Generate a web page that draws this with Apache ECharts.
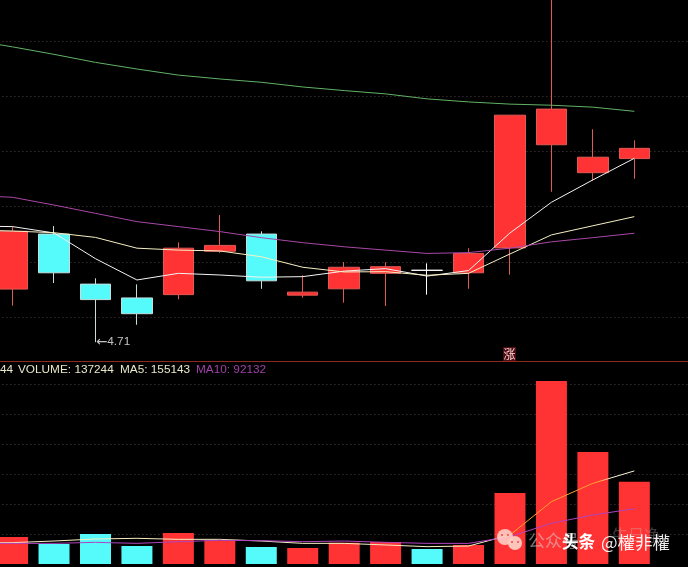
<!DOCTYPE html>
<html>
<head>
<meta charset="utf-8">
<title>K线图</title>
<style>
  html, body { margin:0; padding:0; background:#000; }
  #main { width:688px; height:567px; }
</style>
<script src="https://cdn.jsdelivr.net/npm/echarts@6/dist/echarts.min.js"></script>
</head>
<body>
<div id="main"></div>
<script>
/* ================= data ================= */
// first slot sits left of the window (only the MA lines come from there), last one is empty
const days = ['d0','d1','d2','d3','d4','d5','d6','d7','d8','d9','d10','d11','d12','d13','d14','d15','d16','d17'];

// open, close, low, high
const kline = [
  '-',
  [4.902,5.111,4.842,5.128],
  [5.101,4.961,4.924,5.130],
  [4.920,4.864,4.710,4.941],
  [4.870,4.813,4.773,4.919],
  [4.882,5.050,4.865,5.071],
  [5.039,5.060,5.033,5.170],
  [5.101,4.932,4.903,5.111],
  [4.880,4.891,4.871,4.952],
  [4.903,4.981,4.853,5.000],
  [4.959,4.983,4.841,4.999],
  [4.970,4.970,4.882,4.995],
  [4.961,5.031,4.903,5.050],
  [5.051,5.531,4.954,5.531],
  [5.424,5.553,5.254,5.950],
  [5.323,5.379,5.294,5.480],
  [5.374,5.411,5.301,5.440],
  '-'
];

const ma5   = [5.130,5.128,5.105,5.012,4.935,4.959,4.953,4.945,4.947,4.967,4.976,4.949,4.969,5.105,5.216,5.297,5.375,'-'];
const ma10  = [5.116,5.112,5.106,5.089,5.050,5.043,5.040,5.019,4.981,4.964,4.965,4.952,4.959,5.029,5.098,5.131,5.164,'-'];
const ma20  = [5.241,5.234,5.206,5.176,5.146,5.128,5.110,5.088,5.070,5.055,5.043,5.031,5.034,5.050,5.073,5.088,5.104,'-'];
const ma60  = [5.803,5.778,5.751,5.722,5.698,5.676,5.662,5.650,5.633,5.620,5.608,5.590,5.579,5.571,5.567,5.560,5.545,'-'];

const volume = ['-',45000,33300,50000,30000,51700,39500,28300,26700,35500,36700,25000,31700,118300,305000,186700,137244,'-'];
const volUp  = [0,1,0,0,0,1,1,0,1,1,1,0,1,1,1,1,1,0];
const volMa5  = [35000,35600,38300,41700,42800,41100,41100,38300,34400,34400,31700,28900,30000,48300,103900,134500,155143,'-'];
const volMa10 = [34400,34400,34400,36100,34400,37200,39500,38900,37200,38300,36100,34400,34400,45600,67800,81700,92132,'-'];

const lowValue = 4.71;
const lowDay = 'd3';

/* ================= colours ================= */
const RED = '#ff3333';
const CYAN = '#55fbfb';
const GRID_LINE = '#4e4242';
// the pale MA5 turns orange where it crosses the tall red bars
const VOL_MA5_COLOR = {
  type:'linear', x:0, y:0, x2:688, y2:0, global:true,
  colorStops:[
    { offset:0, color:'#f6efc0' },
    { offset:0.73, color:'#f6efc0' },
    { offset:0.75, color:'#ffa033' },
    { offset:0.87, color:'#ffa033' },
    { offset:0.89, color:'#f8f4dc' },
    { offset:1, color:'#f8f4dc' }
  ]
};

/* ================= chart ================= */
const chart = echarts.init(document.getElementById('main'));

const maLine = (name, data, color, xy) => ({
  name, type:'line', data,
  xAxisIndex:xy, yAxisIndex:xy,
  symbol:'none',
  lineStyle:{ color, width:1 },
  z:5
});

const txt = (text, x, y, fill, extra) => ({
  type:'text', z:20,
  style:Object.assign({
    text, x, y, fill,
    font:'11.8px "Liberation Sans"',
    verticalAlign:'middle'
  }, extra)
});

chart.setOption({
  animation:false,
  backgroundColor:'#000',
  grid:[
    // the window cuts through the first candle, so the grids run past the canvas
    { left:-49.6, width:746.1, top:-14.5, height:387.1, outerBoundsMode:'none' },
    { left:-49.6, width:746.1, top:354, height:210, outerBoundsMode:'none' }
  ],
  xAxis:[
    { type:'category', data:days, gridIndex:0, show:false },
    { type:'category', data:days, gridIndex:1, show:false }
  ],
  yAxis:[
    {
      type:'value', gridIndex:0, min:4.6, max:6.0, interval:0.2,
      axisLine:{show:false}, axisTick:{show:false}, axisLabel:{show:false},
      splitLine:{ showMinLine:false, showMaxLine:false, lineStyle:{ color:GRID_LINE, type:[1,3] } }
    },
    {
      type:'value', gridIndex:1, min:0, max:350000, interval:50000,
      axisLine:{show:false}, axisTick:{show:false}, axisLabel:{show:false},
      splitLine:{ showMinLine:false, showMaxLine:false, lineStyle:{ color:GRID_LINE, type:[1,3] } }
    }
  ],
  series:[
    {
      name:'K', type:'candlestick', data:kline,
      xAxisIndex:0, yAxisIndex:0,
      barWidth:31,
      itemStyle:{
        color:RED, color0:CYAN,
        borderColor:'#e05a55', borderColor0:'#c4dede', borderColorDoji:'#ffffff',
        borderWidth:1
      },
      markPoint:{
        symbol:'circle', symbolSize:1,
        itemStyle:{ color:'transparent' },
        label:{
          show:true, position:'right', distance:0,
          formatter:'{a|←}' + lowValue,
          color:'#c4c4c4', fontSize:11.8, fontFamily:'Liberation Sans',
          rich:{ a:{ fontFamily:'DejaVu Sans', fontSize:13.5, color:'#c4c4c4' } }
        },
        data:[{ coord:[lowDay, lowValue] }]
      }
    },
    maLine('MA5', ma5, '#f4f4f4', 0),
    maLine('MA10', ma10, '#f6f0c4', 0),
    maLine('MA20', ma20, '#a848a8', 0),
    maLine('MA60', ma60, '#62b266', 0),
    {
      name:'VOLUME', type:'bar',
      xAxisIndex:1, yAxisIndex:1,
      barWidth:31,
      data:volume.map((v, i) => ({ value:v, itemStyle:{ color:volUp[i] ? RED : CYAN } }))
    },
    maLine('VOL MA5', volMa5, VOL_MA5_COLOR, 1),
    maLine('VOL MA10', volMa10, '#b044c0', 1)
  ],
  graphic:[
    // divider between the two panels
    { type:'line', z:10, shape:{ x1:0, y1:361.5, x2:688, y2:361.5 }, style:{ stroke:'#8c2a22', lineWidth:1 } },

    // header of the volume panel
    txt('44', 0, 369.5, '#e8e8c8'),
    txt('VOLUME: 137244', 18, 369.5, '#e8e8c8'),
    txt('MA5: 155143', 120, 369.5, '#e8e8c8'),
    txt('MA10: 92132', 196, 369.5, '#a040a8'),

    // badge above the divider
    { type:'rect', z:19, shape:{ x:503, y:347, width:13, height:14 }, style:{ fill:'#4c0c12' } },
    txt('涨', 503.5, 354, '#ffd4d4', { font:'12px "Noto Sans CJK SC"' }),

    // watermark
    { type:'circle', z:19, shape:{ cx:505, cy:537, r:8 }, style:{ fill:'rgba(255,205,195,0.9)' } },
    { type:'circle', z:19, shape:{ cx:515, cy:543, r:7 }, style:{ fill:'rgba(255,205,195,0.95)' } },
    { type:'circle', z:21, shape:{ cx:502, cy:535, r:1 }, style:{ fill:'#e05050' } },
    { type:'circle', z:21, shape:{ cx:508, cy:535, r:1 }, style:{ fill:'#e05050' } },
    { type:'circle', z:21, shape:{ cx:512, cy:542, r:1 }, style:{ fill:'#e05050' } },
    { type:'circle', z:21, shape:{ cx:518, cy:542, r:1 }, style:{ fill:'#e05050' } },
    txt('公众号', 528, 541, 'rgba(210,210,210,0.55)', { font:'17px "Noto Sans CJK SC"' }),
    txt('牛日净', 612, 535, 'rgba(200,200,200,0.3)', { font:'16px "Noto Sans CJK SC"' }),
    txt('头条', 562, 542, '#ffffff', { font:'bold 16.5px "Noto Sans CJK SC"' }),
    txt('@權非權', 601, 542, 'rgba(255,255,255,0.92)', { font:'17.5px "Noto Sans CJK TC"' })
  ]
});
</script>
</body>
</html>
